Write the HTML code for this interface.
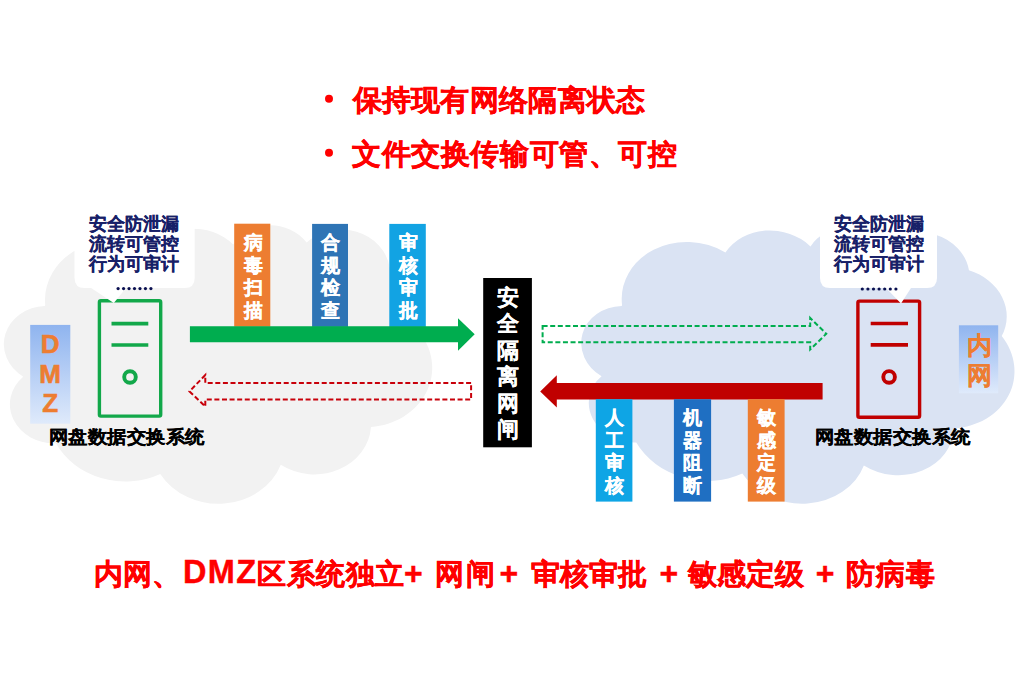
<!DOCTYPE html>
<html><head><meta charset="utf-8">
<style>
html,body{margin:0;padding:0;background:#fff;width:1015px;height:675px;overflow:hidden;}
body{position:relative;font-family:"Liberation Sans",sans-serif;font-weight:bold;}
.t{position:absolute;white-space:nowrap;line-height:1;}
svg{position:absolute;left:0;top:0;}
.tag{position:absolute;color:#fff;font-size:18.5px;line-height:22.7px;text-align:center;font-weight:900;-webkit-text-stroke:0.35px #fff;}
.bub{position:absolute;color:#172068;font-size:17.5px;line-height:20.3px;white-space:nowrap;font-weight:900;-webkit-text-stroke:0.2px #172068;}
.sys{position:absolute;color:#000;font-size:19px;line-height:1;white-space:nowrap;letter-spacing:0.5px;font-weight:900;-webkit-text-stroke:0.25px #000;transform:scaleY(0.93);transform-origin:0 0;}
.sk{-webkit-text-stroke:0.4px currentColor;}
</style></head><body>
<svg width="1015" height="675" viewBox="0 0 1015 675">
  <defs>
    <linearGradient id="gb" x1="0" y1="0" x2="0" y2="1">
      <stop offset="0" stop-color="#8fb4ef"/>
      <stop offset="1" stop-color="#dfeafb"/>
    </linearGradient>
  </defs>
  <path d="M90.28,332.64 A156.32,212.73 0 0 1 324.19,120.42 A123.45,168.22 0 0 1 519.81,79.45 A101.04,137.62 0 0 1 690.58,57.43 A112.43,152.66 0 0 1 886.99,129.07 A123.45,168.36 0 0 1 968.02,357.86 A156.83,213.43 0 0 1 865.84,699.14 A133.91,182.11 0 0 1 661.02,852.16 A156.30,213.31 0 0 1 381.49,908.89 A178.70,244.05 0 0 1 134.37,821.07 A100.93,136.99 0 0 1 48.92,591.39 A100.58,137.62 0 0 1 89.44,335.75 Z" transform="matrix(0.4279 0.02449 -0.01665 0.28055 12.13 209.55)" fill="#f2f2f2"/>
  <path d="M90.28,332.64 A156.32,212.73 0 0 1 324.19,120.42 A123.45,168.22 0 0 1 519.81,79.45 A101.04,137.62 0 0 1 690.58,57.43 A112.43,152.66 0 0 1 886.99,129.07 A123.45,168.36 0 0 1 968.02,357.86 A156.83,213.43 0 0 1 865.84,699.14 A133.91,182.11 0 0 1 661.02,852.16 A156.30,213.31 0 0 1 381.49,908.89 A178.70,244.05 0 0 1 134.37,821.07 A100.93,136.99 0 0 1 48.92,591.39 A100.58,137.62 0 0 1 89.44,335.75 Z" transform="matrix(0.43281 0.02718 -0.010056 0.27847 586.34 210.15)" fill="#dae3f3"/>
  <!-- left server -->
  <rect x="99.4" y="300.8" width="61.3" height="115.3" rx="1.5" fill="none" stroke="#12a84a" stroke-width="3.4"/>
  <line x1="111.5" y1="323.6" x2="148.3" y2="323.6" stroke="#12a84a" stroke-width="3.7"/>
  <line x1="111.5" y1="345" x2="148.3" y2="345" stroke="#12a84a" stroke-width="3.7"/>
  <circle cx="130" cy="377" r="5.8" fill="none" stroke="#12a84a" stroke-width="3.9"/>
  <!-- right server -->
  <rect x="857.9" y="301.1" width="61.7" height="116.2" rx="1.5" fill="none" stroke="#c00000" stroke-width="3.4"/>
  <line x1="870.7" y1="323.5" x2="908" y2="323.5" stroke="#c00000" stroke-width="3.7"/>
  <line x1="870.7" y1="344.9" x2="908" y2="344.9" stroke="#c00000" stroke-width="3.7"/>
  <circle cx="889.1" cy="376.9" r="5.8" fill="none" stroke="#c00000" stroke-width="3.9"/>
  <!-- left bubble -->
  <path d="M84.5,200 H184.7 Q194.7,200 194.7,210 V278 Q194.7,288 184.7,288 H126 L113.8,303 L91.1,288 H84.5 Q74.5,288 74.5,278 V210 Q74.5,200 84.5,200 Z" fill="#fff"/>
  <!-- right bubble -->
  <path d="M830,200 H927 Q937,200 937,210 V278 Q937,288 927,288 H911 L901,303.5 L886,288 H830 Q820,288 820,278 V210 Q820,200 830,200 Z" fill="#fff"/>
  <circle cx="118.10" cy="288.6" r="1.6" fill="#0a1050"/><circle cx="123.57" cy="288.6" r="1.6" fill="#0a1050"/><circle cx="129.04" cy="288.6" r="1.6" fill="#0a1050"/><circle cx="134.51" cy="288.6" r="1.6" fill="#0a1050"/><circle cx="139.98" cy="288.6" r="1.6" fill="#0a1050"/><circle cx="145.45" cy="288.6" r="1.6" fill="#0a1050"/><circle cx="150.92" cy="288.6" r="1.6" fill="#0a1050"/>
  <circle cx="862.30" cy="289" r="1.6" fill="#0a1050"/><circle cx="867.90" cy="289" r="1.6" fill="#0a1050"/><circle cx="873.50" cy="289" r="1.6" fill="#0a1050"/><circle cx="879.10" cy="289" r="1.6" fill="#0a1050"/><circle cx="884.70" cy="289" r="1.6" fill="#0a1050"/><circle cx="890.30" cy="289" r="1.6" fill="#0a1050"/><circle cx="895.90" cy="289" r="1.6" fill="#0a1050"/>
  <!-- DMZ box -->
  <rect x="30.2" y="324.9" width="40.1" height="98.8" fill="url(#gb)"/>
  <!-- neiwang box -->
  <rect x="958.9" y="325.3" width="39.3" height="68" fill="url(#gb)"/>
  <!-- tags left -->
  <rect x="234.2" y="223.7" width="36.1" height="103" fill="#ed7d31"/>
  <rect x="312.1" y="223.9" width="35.9" height="103" fill="#2e74b5"/>
  <rect x="389.3" y="223.9" width="36.5" height="103" fill="#12a3e3"/>
  <!-- green arrow -->
  <path d="M189.9,326.2 H458 V318.3 L474.7,334.3 L458,350.8 V342.3 H189.9 Z" fill="#00ad4f"/>
  <!-- red dashed arrow -->
  <path d="M471.1,383 H205.3 V375 L189.5,391.4 L205.3,406.5 V399.6 H471.1 Z" fill="none" stroke="#c8000a" stroke-width="2" stroke-dasharray="5,2.6"/>
  <!-- black box -->
  <rect x="483.2" y="278" width="48.7" height="169.3" fill="#000"/>
  <!-- green dashed arrow -->
  <path d="M542.6,325.9 H810.2 V318 L826.3,333.8 L810.2,349.5 V342.3 H542.6 Z" fill="none" stroke="#00ad4f" stroke-width="2" stroke-dasharray="5,2.6"/>
  <!-- red solid arrow -->
  <path d="M822.6,383.1 H556.8 V375.2 L540.2,391.4 L556.8,407.6 V399.4 H822.6 Z" fill="#c00000"/>
  <!-- right tags -->
  <rect x="595.8" y="399.2" width="36.6" height="102.4" fill="#0ea5e5"/>
  <rect x="673.9" y="399.2" width="37.2" height="102.4" fill="#1f6fc2"/>
  <rect x="747.8" y="399.2" width="36.8" height="102.4" fill="#ed7d31"/>
  <!-- bullets -->
  <circle cx="329" cy="98.7" r="4" fill="#ff0000"/>
  <circle cx="329" cy="152.7" r="4" fill="#ff0000"/>
</svg>
<div class="t sk" style="left:352.5px;top:85px;font-size:29.3px;letter-spacing:0.3px;color:#ff0000;font-weight:900">保持现有网络隔离状态</div>
<div class="t sk" style="left:352px;top:138.5px;font-size:29.3px;letter-spacing:0.6px;color:#ff0000;font-weight:900">文件交换传输可管、可控</div>

<div class="bub" style="left:89px;top:213.5px">安全防泄漏<br>流转可管控<br>行为可审计</div>
<div class="bub" style="left:834px;top:213.5px">安全防泄漏<br>流转可管控<br>行为可审计</div>

<div class="sys" style="left:48.5px;top:428px">网盘数据交换系统</div>
<div class="sys" style="left:814.5px;top:428px">网盘数据交换系统</div>

<div class="tag" style="left:235.2px;top:232px;width:36px">病<br>毒<br>扫<br>描</div>
<div class="tag" style="left:312.6px;top:232px;width:36px">合<br>规<br>检<br>查</div>
<div class="tag" style="left:389.8px;top:232px;width:36.5px">审<br>核<br>审<br>批</div>

<div class="tag" style="left:595.8px;top:407px;width:36.6px">人<br>工<br>审<br>核</div>
<div class="tag" style="left:673.9px;top:407px;width:37.2px">机<br>器<br>阻<br>断</div>
<div class="tag" style="left:747.8px;top:407px;width:36.8px">敏<br>感<br>定<br>级</div>

<div class="tag" style="left:483.2px;top:284.5px;width:48.7px;font-size:21.5px;line-height:26.5px;-webkit-text-stroke:0.15px #fff">安<br>全<br>隔<br>离<br>网<br>闸</div>

<div class="t" style="left:30.2px;top:330px;width:40px;text-align:center;color:#ed7d31;font-size:26px;line-height:29.5px;font-weight:700;-webkit-text-stroke:0.6px #ed7d31">D<br>M<br>Z</div>
<div class="t" style="left:960.2px;top:331px;width:39.3px;text-align:center;color:#ed7d31;font-size:24.5px;line-height:29.6px;font-weight:900;-webkit-text-stroke:0.2px #ed7d31">内<br>网</div>

<div class="t sk" style="left:94px;top:559.5px;color:#ff0000;font-size:29px;font-weight:900">内网、</div>
<div class="t sk" style="left:183px;top:555.5px;color:#ff0000;font-size:32.5px;font-weight:700;letter-spacing:1.4px">DMZ</div>
<div class="t sk" style="left:257px;top:559.5px;color:#ff0000;font-size:29px;font-weight:900;letter-spacing:0.6px">区系统独立</div>
<div class="t sk" style="left:404px;top:556.5px;color:#ff0000;font-size:32px;font-weight:700">+</div>
<div class="t sk" style="left:435.2px;top:559.5px;color:#ff0000;font-size:29px;font-weight:900;letter-spacing:1.5px">网闸</div>
<div class="t sk" style="left:499.5px;top:556.5px;color:#ff0000;font-size:32px;font-weight:700">+</div>
<div class="t sk" style="left:531.4px;top:559.5px;color:#ff0000;font-size:29px;font-weight:900">审核审批</div>
<div class="t sk" style="left:659.5px;top:556.5px;color:#ff0000;font-size:32px;font-weight:700">+</div>
<div class="t sk" style="left:688.3px;top:559.5px;color:#ff0000;font-size:29px;font-weight:900">敏感定级</div>
<div class="t sk" style="left:815.8px;top:556.5px;color:#ff0000;font-size:32px;font-weight:700">+</div>
<div class="t sk" style="left:846px;top:559.5px;color:#ff0000;font-size:29px;font-weight:900;letter-spacing:1px">防病毒</div>
</body></html>
